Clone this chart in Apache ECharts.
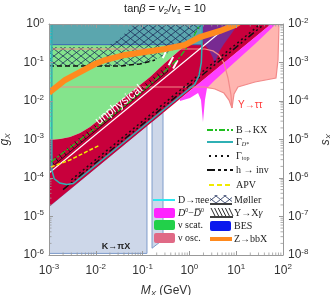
<!DOCTYPE html>
<html><head><meta charset="utf-8">
<script src="https://cdn.jsdelivr.net/npm/echarts@6/dist/echarts.min.js"></script>
<style>html,body{margin:0;padding:0;background:#fff}#c{width:330px;height:295px}</style>
</head><body><div id="c"></div>
<script>
// ---------- axis ranges / ticks ----------
const xRange = [1e-3, 100];
const gRange = [1e-6, 1];
const sRange = [1e-8, 1e-2];
const minorMult = [2,3,4,5,6,7,8,9];
const xDecades = [1e-3,1e-2,1e-1,1,10];
const gDecades = [1e-6,1e-5,1e-4,1e-3,1e-2,1e-1];

// ---------- regions, points are [M_X (GeV), g_X] ----------
const kpiRegionA = [[1e-3,1.1e-6],[0.124,1.1e-6],[0.124,2.3e-3],[1e-3,1.8e-5]];
const kpiRegionB = [[0.159,1.5e-6],[0.273,2.5e-6],[0.273,5e-3],[0.159,2.9e-3]];
const redUpper = [[1e-3,9.7e-4],[1.72e-3,1.03e-3],[2.81e-3,1.16e-3],[4.6e-3,1.48e-3],[7.5e-3,2.11e-3],[0.0123,3.4e-3],[0.0201,5.83e-3],[0.0329,0.01],[0.0538,0.0161],[0.0879,0.0261],[0.144,0.042],[0.301,0.097],[0.63,0.211],[1.14,0.384],[1.68,0.658],[2.05,1]];
const redLower = [[55.6,1],[1e-3,1.8e-5]];
const tealRegion = [[1e-3,0.285],[1.86,0.285],[1.86,1],[1e-3,1]];
const tealEdge = [[1e-3,0.29],[1.86,0.29]];
const purpleRegion = [[1.86,1],[10.9,1],[8.13,0.583],[5.48,0.303],[4.29,0.187],[3.7,0.116],[3.52,0.0861],[3.19,0.131],[2.62,0.211],[2.05,0.303],[1.86,0.433]];
const magentaRegion = [[0.63,0.0113],[55.6,1],[70.8,1],[25.2,0.303],[9.42,0.103],[3.52,0.0351],[2.38,0.0218],[2.15,0.0106],[1.95,2.85e-3],[1.77,0.0106],[1.53,0.0161],[1.03,0.012],[0.63,0.0100]];
const salmonRegion = [[1.03,0.0231],[3.52,0.0205],[5.48,0.0161],[7.02,0.0106],[8.13,6.58e-3],[8.98,0.0152],[10.9,0.0231],[25.2,0.0312],[70.8,0.0396],[78.2,0.116],[82.2,1],[1.68,1]];
const yttTop = [[1e-3,0.224],[2.15,0.224],[3.19,0.2],[4.29,0.157],[5.48,0.097],[6.68,0.0396],[7.74,0.0143],[8.13,6.58e-3]];
const yttLow = [[1e-3,0.0231],[2.15,0.0231],[3.52,0.0205],[5.48,0.0161],[7.02,0.0106],[8.13,6.58e-3]];
const yttRight = [[8.13,6.58e-3],[8.98,0.0152],[10.9,0.0231],[25.2,0.0312],[70.8,0.0396],[78.2,0.116],[82.2,1]];
const mollerRegion = [[1e-3,0.253],[0.0157,0.253],[0.0298,0.384],[0.0488,0.698],[0.0624,1],[2.15,1],[1.32,0.583],[0.805,0.34],[0.385,0.187],[0.184,0.116],[0.0879,0.0914],[0.0329,0.0811],[1e-3,0.0811]];
const mollerEdge = [[1e-3,0.0811],[0.0329,0.0811],[0.0879,0.0914],[0.184,0.116]];

// ---------- curves ----------
const zbbX = [[1e-3,0.016],[1.05e-3,0.0171],[2.2e-3,0.0351],[4.17e-3,0.0533],[9.6e-3,0.0914],[0.0157,0.116],[0.042,0.157],[0.112,0.187],[0.301,0.224],[0.805,0.285],[1.68,0.459],[4.51,0.658],[9.42,0.94],[12,1.13]];
const bKX = [[1.1e-3,2.6e-4],[3e-3,6.6e-4],[0.01,2e-3],[0.03,5.5e-3],[0.1,0.018],[0.3,0.06],[0.6,0.13],[0.9,0.25],[1.2,0.45],[1.5,0.75],[1.7,1]];
const apv = [[1.1e-3,1.93e-4],[2.81e-3,2.94e-4],[7.5e-3,5.33e-4],[0.0123,7.2e-4]];
const gammaDstar = [[1.15e-3,1],[1.15e-3,1.6e-4],[1.3e-3,9.5e-5],[1.7e-3,7.4e-5],[2.4e-3,6.8e-5],[3.3e-3,7.2e-5],[1.3,0.0273],[1.6,0.045],[1.8,0.1],[1.86,0.3],[1.86,1]];
const dPiee = [[1.03e-3,1],[1.03e-3,1.5e-4]];
const hInv = [[2e-3,5e-5],[40,1]];
const gammaTop = [[3e-3,9e-5],[33,1]];
const unphysEdge = [[1e-3,1.35e-4],[7.4,1]];
const yXgamma = [[1.3e-3,2.2e-4],[0.35,0.06]];
const whiteMarks = [[[0.27,0.13],[0.33,0.22]],[[0.36,0.085],[0.45,0.14]],[[0.45,0.07],[0.56,0.115]]];

// ---------- helpers ----------
function hatchCanvas(){
  const c=document.createElement('canvas'); c.width=9; c.height=7;
  const x=c.getContext('2d'); x.strokeStyle='#1b2b58'; x.lineWidth=0.8;
  x.beginPath(); x.moveTo(0,0); x.lineTo(9,7); x.moveTo(9,0); x.lineTo(0,7); x.stroke();
  return c;
}
const HATCH = hatchCanvas();
let zc = 2;
function poly(pts, style){
  return {type:'custom', silent:true, clip:true, z:zc++, animation:false,
    data:[[1,1e-3]],
    renderItem:(p,api)=>({type:'polygon', shape:{points:pts.map(q=>api.coord(q))}, style:style})};
}
function line(pts, color, width, dash, clip){
  return {type:'custom', silent:true, clip:clip!==false, z:zc++, animation:false,
    data:[[1,1e-3]],
    renderItem:(p,api)=>({type:'polyline', shape:{points:pts.map(q=>api.coord(q))},
      style:{stroke:color, lineWidth:width, lineDash:dash||null, fill:'none', lineCap:'butt'}})};
}
function hatchLine(pts){
  return {type:'custom', silent:true, clip:true, z:zc++, animation:false, data:[[1,1e-3]],
    renderItem:(p,api)=>{
      const a=api.coord(pts[0]), b=api.coord(pts[1]);
      const ch=[{type:'line', shape:{x1:a[0],y1:a[1],x2:b[0],y2:b[1]}, style:{stroke:'#111',lineWidth:0.8}}];
      const L=Math.hypot(b[0]-a[0],b[1]-a[1]); const n=Math.floor(L/5);
      for(let i=0;i<=n;i++){const t=i/n; const x=a[0]+(b[0]-a[0])*t, y=a[1]+(b[1]-a[1])*t;
        ch.push({type:'line', shape:{x1:x,y1:y,x2:x-3,y2:y-4}, style:{stroke:'#111',lineWidth:0.9}});}
      return {type:'group', children:ch};
    }};
}
function segs(list, color){
  return {type:'custom', silent:true, clip:true, z:zc++, animation:false, data:[[1,1e-3]],
    renderItem:(p,api)=>({type:'group', children:list.map(s=>{const a=api.coord(s[0]), b=api.coord(s[1]);
      return {type:'line', shape:{x1:a[0],y1:a[1],x2:b[0],y2:b[1]}, style:{stroke:color,lineWidth:2}};})})};
}
function minorTicks(){
  return {type:'custom', silent:true, clip:false, z:60, animation:false, data:[[1,1e-3]],
    renderItem:(p,api)=>{
      const ch=[]; const st={stroke:'#999',lineWidth:0.8};
      xDecades.forEach(d=>minorMult.forEach(m=>{const v=d*m;
        const b=api.coord([v,gRange[0]]), t=api.coord([v,gRange[1]]);
        ch.push({type:'line',shape:{x1:b[0],y1:b[1],x2:b[0],y2:b[1]-2.5},style:st});
        ch.push({type:'line',shape:{x1:t[0],y1:t[1],x2:t[0],y2:t[1]+2.5},style:st});}));
      gDecades.forEach(d=>minorMult.forEach(m=>{const v=d*m;
        const l=api.coord([xRange[0],v]), r=api.coord([xRange[1],v]);
        ch.push({type:'line',shape:{x1:l[0],y1:l[1],x2:l[0]+2.5,y2:l[1]},style:st});
        ch.push({type:'line',shape:{x1:r[0],y1:r[1],x2:r[0]-2.5,y2:r[1]},style:st});}));
      return {type:'group',children:ch};
    }};
}

const series = [
  poly(salmonRegion, {fill:'#ffb5b0'}),
  poly(kpiRegionA, {fill:'#cdd7e9', stroke:'#7f9ccb', lineWidth:1}),
  poly(kpiRegionB, {fill:'#cdd7e9', stroke:'#7f9ccb', lineWidth:1}),
  poly(redUpper.concat([[1e-3,1]]), {fill:'#84e48c'}),
  poly(redUpper.concat(redLower), {fill:'#c8003c'}),
  poly(magentaRegion, {fill:'#ff40ff'}),
  poly(purpleRegion, {fill:'#782a92'}),
  poly(tealRegion, {fill:'#5ba6ae'}),
  line(tealEdge, '#3c68b4', 1),
  poly(mollerRegion, {fill:{image:HATCH, repeat:'repeat'}}),
  line(mollerEdge, '#111', 1.5, [5,3]),
  line(yttTop, '#f28a8a', 1.2),
  line(yttLow, '#f28a8a', 1.2),
  line(yttRight, '#f28a8a', 1.2),
  line(unphysEdge, '#ffffff', 1.2),
  segs(whiteMarks, '#ffffff'),
  hatchLine(yXgamma),
  line(gammaTop, '#111', 1.5, [2,3]),
  line(hInv, '#111', 1.5, [7,3,2,3,2,3]),
  line(gammaDstar, '#2fb0b4', 1.5),
  line(dPiee, '#00f0ff', 1.5),
  line(apv, '#f0ea00', 1.5, [4,2]),
  line(bKX, '#1fbf1f', 1.3, [6,2,2,2]),
  line(zbbX, '#ff8a1e', 6),
  minorTicks()
];

const supRich = {b:{fontSize:12, fontFamily:'Liberation Sans', color:'#333'}, s:{fontSize:8, fontFamily:'Liberation Sans', color:'#333', padding:[0,0,7,0]}};
const fmt = v => '{b|10}{s|' + Math.round(Math.log10(v)) + '}';
function axisCommon(extra){
  return Object.assign({type:'log', logBase:10, z:50,
    axisLine:{show:true, lineStyle:{color:'#999', width:1}},
    axisTick:{show:true, inside:true, length:4, lineStyle:{color:'#999'}},
    splitLine:{show:false}, minorTick:{show:false}}, extra);
}
const nameRich = {i:{fontSize:12,fontStyle:'italic',fontFamily:'Liberation Sans',color:'#333'}, sub:{fontSize:8,fontStyle:'italic',fontFamily:'Liberation Sans',color:'#333',padding:[6,0,0,0]}};
const option = {
  animation:false,
  grid:{left:49, right:47, top:24, bottom:40, containLabel:false, outerBoundsMode:'none'},
  xAxis:[
    axisCommon({min:xRange[0], max:xRange[1], position:'bottom',
      axisLabel:{formatter:fmt, rich:supRich, margin:8},
      name:'{i|M}{sub|X} (GeV)', nameLocation:'middle', nameGap:29,
      nameTextStyle:{fontSize:12, fontFamily:'Liberation Sans', color:'#333', rich:nameRich}}),
    axisCommon({min:xRange[0], max:xRange[1], position:'top', axisLabel:{show:false}})
  ],
  yAxis:[
    axisCommon({min:gRange[0], max:gRange[1], position:'left',
      axisLabel:{formatter:fmt, rich:supRich, margin:5},
      name:'{i|g}{sub|X}', nameLocation:'middle', nameGap:37,
      nameTextStyle:{rich:nameRich}}),
    axisCommon({min:sRange[0], max:sRange[1], position:'right',
      axisLabel:{formatter:fmt, rich:supRich, margin:5},
      name:'{i|s}{sub|X}', nameLocation:'middle', nameGap:33,
      nameTextStyle:{rich:nameRich}})
  ],
  series: series,
  graphic: []
};

// ---------- text & legend graphics ----------
const serif = 'Liberation Serif';
const g = option.graphic;
function txt(x,y,text,font,fill,align){ g.push({type:'text', x:x, y:y, z:100, silent:true,
  style:{text:text, font:font, fill:fill||'#222', verticalAlign:'middle', align:align||'left'}}); }
function ln(x1,y1,x2,y2,stroke,w,dash){ g.push({type:'line', z:100, silent:true, shape:{x1,y1,x2,y2}, style:{stroke, lineWidth:w, lineDash:dash||null}}); }
function box(x,y,w,h,fill){ g.push({type:'rect', z:100, silent:true, shape:{x,y,width:w,height:h,r:2}, style:{fill}}); }

// title
g.push({type:'text', x:165, y:9, z:100, silent:true, style:{text:'tan{i|β} = {i|v}{s|2}/{i|v}{s|1} = 10', align:'center', verticalAlign:'middle',
  font:'11px Liberation Sans', fill:'#222',
  rich:{i:{fontStyle:'italic', fontSize:11, fontFamily:'Liberation Sans', fill:'#222'}, s:{fontSize:8, fontFamily:'Liberation Sans', padding:[5,0,0,0]}}}});
// unphysical
g.push({type:'text', x:119, y:105, rotation:0.66, z:100, silent:true, style:{text:'unphysical', font:'12px Liberation Sans', fill:'#ffffff', align:'center', verticalAlign:'middle'}});
// Υ→ττ
txt(238,105,'Υ→ττ','10px Liberation Sans','#ff3b3b');
// K→πX
txt(116,247,'K→πX','bold 9px Liberation Sans','#222','center');

// upper legend
ln(207,130,233,130,'#1fbf1f',2,[6,2,2,2]); txt(236,130,'B→KX','10px '+serif);
ln(207,142,233,142,'#2fb0b4',2); g.push({type:'text', x:236, y:142, z:100, silent:true, style:{text:'Γ{s|D*}', font:'10px '+serif, fill:'#222', verticalAlign:'middle', rich:{s:{fontSize:6, fontStyle:'italic', fontFamily:serif, padding:[5,0,0,0]}}}});
ln(209,156,233,156,'#111',2,[2,4]); g.push({type:'text', x:236, y:156, z:100, silent:true, style:{text:'Γ{s|top}', font:'10px '+serif, fill:'#222', verticalAlign:'middle', rich:{s:{fontSize:6, fontFamily:serif, padding:[5,0,0,0]}}}});
ln(207,170,233,170,'#111',2,[8,3,3,3,3,3]); txt(236,170,'h → inv','10px '+serif);
ln(209,185,233,185,'#f0ea00',2,[5,3]); txt(236,185,'APV','10px '+serif);

// lower legend, left column
ln(153,200,175,200,'#2ee8f0',2); txt(178,200,'D→πee','10px '+serif);
box(154,208,21,10,'#ff22ff'); g.push({type:'text', x:178, y:213, z:100, silent:true, style:{text:'{i|D}{s|0}−{i|D̅}{s|0}', font:'10px '+serif, fill:'#222', verticalAlign:'middle', rich:{i:{fontStyle:'italic', fontSize:10, fontFamily:serif}, s:{fontSize:6, fontFamily:serif, padding:[0,0,5,0]}}}});
box(154,220,21,10,'#22d04a'); txt(178,225,'ν scat.','10px '+serif);
box(154,233,21,10,'#e06a86'); txt(178,238,'ν osc.','10px '+serif);
// lower legend, right column
g.push({type:'rect', z:100, silent:true, shape:{x:210,y:195,width:22,height:8}, style:{fill:{image:HATCH, repeat:'repeat'}}});
ln(210,204,232,204,'#111',1.6); txt(234,200,'Møller','10px '+serif);
for(let i=0;i<6;i++){ ln(211+i*3.6,208,215+i*3.6,216,'#111',0.9); }
ln(210,217,233,217,'#111',1.6);
g.push({type:'text', x:234, y:213, z:100, silent:true, style:{text:'Υ→X{i|γ}', font:'10px '+serif, fill:'#222', verticalAlign:'middle', rich:{i:{fontStyle:'italic', fontSize:10, fontFamily:serif}}}});
box(210,221,21,10,'#0a18ee'); txt(234,226,'BES','10px '+serif);
ln(210,239,232,239,'#ff8a1e',4); txt(234,239,'Z→bbX','10px '+serif);

const chart = echarts.init(document.getElementById('c'), null, {renderer:'canvas'});
chart.setOption(option);
</script></body></html>
